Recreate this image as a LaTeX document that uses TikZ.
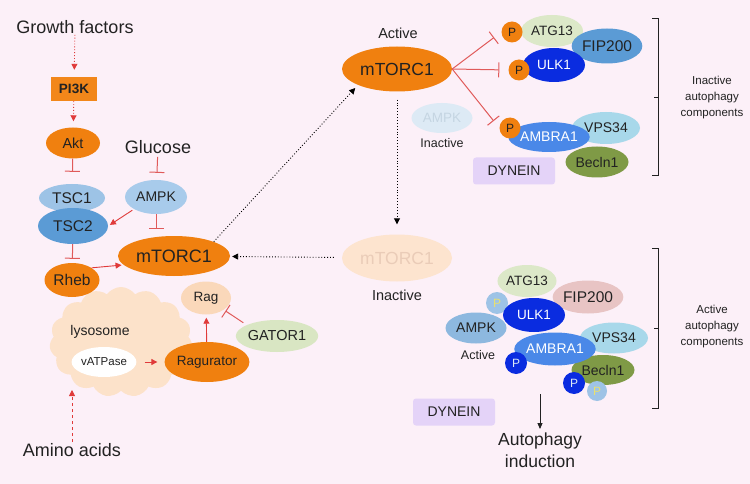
\documentclass[tikz,border=0pt]{standalone}
\usepackage{fontspec}
\setmainfont{Liberation Sans}
\usetikzlibrary{shapes.geometric,shapes.symbols,arrows.meta}

\definecolor{bgpink}{HTML}{FCF0F8}
\definecolor{ink}{HTML}{222222}
\definecolor{orng}{HTML}{F0800F}
\definecolor{pikorange}{HTML}{F2871A}
\definecolor{ragpeach}{HTML}{FAD8BA}
\definecolor{lysopeach}{HTML}{FCE2CA}
\definecolor{tscone}{HTML}{9DC3E6}
\definecolor{tsctwo}{HTML}{5B9BD5}
\definecolor{ampkL}{HTML}{A8CBEB}
\definecolor{gatorgr}{HTML}{D9E6C3}
\definecolor{atggr}{HTML}{DCE8C8}
\definecolor{fipI}{HTML}{5B9BD5}
\definecolor{fipA}{HTML}{E8C4C4}
\definecolor{ulkblue}{HTML}{0A2CE0}
\definecolor{ambrablue}{HTML}{4A88E8}
\definecolor{vpsblue}{HTML}{A8D8EA}
\definecolor{beclngr}{HTML}{7F9A46}
\definecolor{dyneinlav}{HTML}{E4D3F8}
\definecolor{ampkI}{HTML}{DDEAF5}
\definecolor{ampkItxt}{HTML}{C5D5E2}
\definecolor{ampkA}{HTML}{8DB8DF}
\definecolor{mtorI}{HTML}{FDE4CF}
\definecolor{mtorItxt}{HTML}{EACCB8}
\definecolor{plight}{HTML}{9EC3E6}
\definecolor{pyellow}{HTML}{E8E070}
\definecolor{redarr}{HTML}{E03A3A}
\definecolor{inhred}{HTML}{E05A5A}

\begin{document}
\begin{tikzpicture}[x=1pt, y=-1pt,
	fs/.style={font=\fontsize{#1}{#1}\selectfont},
	prot/.style={
		ellipse,
		inner sep=0pt,
		text=ink,
		fs=14
	},
	pdot/.style={
		circle,
		inner sep=0pt,
		minimum size=21pt,
		fill=orng,
		text=ink,
		fs=12
	},
	bigtxt/.style={text=ink, inner sep=1pt, fs=18},
	smalltxt/.style={text=ink, inner sep=1pt, fs=12.5},
	sidetxt/.style={text=ink, align=center, font=\fontsize{11.5}{16}\selectfont},
	dynbox/.style={
		rectangle,
		rounded corners=3pt,
		inner sep=0pt,
		fill=dyneinlav,
		text=ink,
		minimum width=82pt,
		minimum height=27pt,
		fs=14
	},
	act/.style={draw=redarr, line width=0.9pt, -{Triangle[width=6pt,length=6pt]}},
	inhib/.style={draw=inhred, line width=1pt, -{Bar[width=15pt]}},
	flow/.style={draw=black, line width=0.9pt, dotted, -{Triangle[width=6pt,length=6pt]}},
]

\fill[bgpink] (0,0) rectangle (750,484);

% left: signalling into mTORC1
\node[bigtxt] (gf) at (75,27) {Growth factors};
\node[rectangle, fill=pikorange, minimum width=46pt, minimum height=24pt, inner sep=0pt, text=ink, font=\bfseries\fontsize{13.5}{14}\selectfont] (pik) at (74,89) {PI3K};
\node[prot, fill=orng, minimum width=54pt, minimum height=31pt, fs=14.5] (akt) at (73,143) {Akt};
\node[prot, fill=tscone, minimum width=66pt, minimum height=28pt, fs=15.5] (tsc1) at (72,198) {TSC1};
\node[prot, fill=tsctwo, minimum width=70pt, minimum height=36pt, fs=15.5] (tsc2) at (73,226) {TSC2};
\node[bigtxt] (glc) at (158,147) {Glucose};
\node[prot, fill=ampkL, minimum width=62pt, minimum height=34pt] (ampk) at (156,197) {AMPK};

\node[cloud, cloud puffs=15, cloud puff arc=110, cloud ignores aspect, fill=lysopeach, inner sep=0pt, minimum width=143pt, minimum height=110pt] (lyso) at (121,342) {};
\node[prot, fill=orng, minimum width=112pt, minimum height=40pt, fs=18] (mtor) at (174,256) {mTORC1};
\node[prot, fill=orng, minimum width=55pt, minimum height=34pt, fs=15.5] (rheb) at (72,280) {Rheb};
\node[prot, fill=ragpeach, minimum width=50pt, minimum height=33pt, fs=13.5] (rag) at (206,298) {Rag};
\node[smalltxt, fs=14] (lysolbl) at (100,332) {lysosome};
\node[prot, fill=white, minimum width=55pt, minimum height=30pt, fs=11.5] (vat) at (104,362) {vATPase};
\node[prot, fill=orng, minimum width=75pt, minimum height=40pt, fs=13.5] (ragu) at (207,362) {Ragurator};
\node[prot, fill=gatorgr, minimum width=73pt, minimum height=32pt, fs=14.5] (gator) at (277,336) {GATOR1};
\node[bigtxt] (amino) at (72,450) {Amino acids};
\coordinate (aaend) at (72,390);

\draw[act, dotted, shorten >=7pt] (gf) -- (pik);
\draw[act, dotted, shorten >=6pt] (pik) -- (akt);
\draw[inhib, shorten >=12pt] (akt) -- (tsc1);
\draw[inhib, shorten <=2pt, shorten >=7pt] (glc) -- (ampk);
\draw[act, shorten <=2pt, shorten >=2pt] (ampk.south west) -- (tsc2.east);
\draw[inhib, shorten >=7pt] (ampk) -- (ampk |- mtor.north);
\draw[inhib, shorten >=4pt] (tsc2) -- (rheb);
\draw[act, shorten >=2pt] (rheb.north east) -- (mtor.190);
\draw[act, shorten <=8pt, shorten >=7pt] (vat) -- (ragu);
\draw[act, shorten >=3pt] (ragu) -- (rag);
\draw[inhib, shorten <=4pt, shorten >=2pt] (gator.160) -- (rag.south east);
\draw[act, dashed] (amino) -- (aaend);

% mTORC1 active / inactive
\node[smalltxt, fs=14.5] (actlbl) at (398,33) {Active};
\node[prot, fill=orng, minimum width=110pt, minimum height=45pt, fs=17.5] (mtorA) at (397,69) {mTORC1};
\node[prot, fill=mtorI, text=mtorItxt, minimum width=110pt, minimum height=47pt, fs=17.5] (mtorI) at (397,258) {mTORC1};
\node[smalltxt, fs=14.5] (inactlbl) at (397,295) {Inactive};

\draw[flow, shorten >=4pt] (mtor.north east) -- (mtorA.south west);
\draw[flow, shorten <=8pt, shorten >=10pt] (mtorA) -- (mtorI);
\draw[flow, shorten <=8pt, shorten >=2pt] (mtorI) -- (mtor);

% inactive autophagy components
\node[prot, fill=ampkI, text=ampkItxt, minimum width=61pt, minimum height=30pt, fs=13.5] (ampkI) at (442,118) {AMPK};
\node[smalltxt] (ampkIlbl) at (442,143) {Inactive};
\node[prot, fill=atggr, minimum width=62pt, minimum height=32pt, fs=13.5] (atgI) at (552,31) {ATG13};
\node[prot, fill=fipI, minimum width=69pt, minimum height=35pt, fs=15.5] (fipI) at (607,46) {FIP200};
\node[prot, fill=ulkblue, text=white, minimum width=62pt, minimum height=34pt, fs=13.5] (ulkI) at (554,65) {ULK1};
\node[prot, fill=vpsblue, minimum width=68pt, minimum height=32pt] (vpsI) at (606,128) {VPS34};
\node[prot, fill=beclngr, minimum width=63pt, minimum height=31pt] (becI) at (597,162) {Becln1};
\node[prot, fill=ambrablue, text=white, minimum width=68pt, minimum height=30pt] (ambI) at (549,137) {AMBRA1};
\foreach \n/\px/\py in {1/512/32, 2/519/70, 3/510/128}
	\node[pdot] (pI\n) at (\px,\py) {P};
\node[dynbox] (dynI) at (514,171) {DYNEIN};

\foreach \n in {1, 2, 3}
	\draw[inhib, shorten >=9pt] (mtorA.east) -- (pI\n.west);

\draw[ink, line width=0.8pt] (652,18) -- (658,18) -- (658,175) -- (652,175);
\draw[ink, line width=0.8pt] (658,97) -- (654,97);
\node[sidetxt] (inactside) at (712,98) {Inactive\\autophagy\\components};

% active autophagy components
\node[prot, fill=atggr, minimum width=56pt, minimum height=32pt, fs=13.5] (atgA) at (527,281) {ATG13};
\node[prot, fill=fipA, minimum width=68pt, minimum height=33pt, fs=15.5] (fipA) at (588,297) {FIP200};
\node[pdot, fill=plight, text=pyellow, minimum size=22pt] (pA1) at (497,303) {P};
\node[prot, fill=ampkA, minimum width=61pt, minimum height=31pt] (ampkA) at (476,328) {AMPK};
\node[smalltxt, fs=12.5] (ampkAlbl) at (478,355) {Active};
\node[prot, fill=ulkblue, text=white, minimum width=62pt, minimum height=34pt, fs=13.5] (ulkA) at (534,315) {ULK1};
\node[prot, fill=vpsblue, minimum width=68pt, minimum height=31pt] (vpsA) at (614,338) {VPS34};
\node[prot, fill=beclngr, minimum width=63pt, minimum height=30pt] (becA) at (603,370) {Becln1};
\node[prot, fill=ambrablue, text=white, minimum width=66pt, minimum height=33pt] (ambA) at (555,349) {AMBRA1};
\node[pdot, fill=ulkblue, text=ampkI, minimum size=22pt] (pA2) at (516,363) {P};
\node[pdot, fill=ulkblue, text=ampkI, minimum size=22pt] (pA3) at (574,383) {P};
\node[pdot, fill=plight, text=pyellow, minimum size=20pt] (pA4) at (597,391) {P};
\node[dynbox] (dynA) at (454,412) {DYNEIN};

\coordinate (cplx) at (540,394);
\node[text=ink, align=center, font=\fontsize{17.5}{22}\selectfont] (auto) at (540,450) {Autophagy\\induction};
\draw[ink, line width=0.9pt, -{Triangle[width=5pt,length=6pt]}] (cplx) -- (auto);

\draw[ink, line width=0.8pt] (652,248) -- (658,248) -- (658,408) -- (652,408);
\draw[ink, line width=0.8pt] (658,328) -- (654,328);
\node[sidetxt] (actside) at (712,327) {Active\\autophagy\\components};

\end{tikzpicture}
\end{document}
